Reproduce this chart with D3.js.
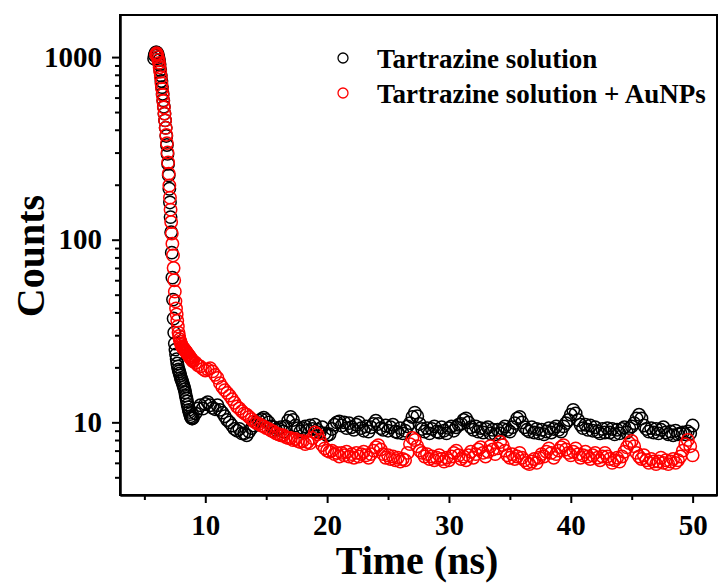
<!DOCTYPE html>
<html>
<head>
<meta charset="utf-8">
<script src="https://cdn.jsdelivr.net/npm/d3@7/dist/d3.min.js"></script>
<style>
  html, body { margin: 0; padding: 0; background: #fff; }
  svg { display: block; }
  text { font-family: "Liberation Serif", "Times New Roman", serif; font-weight: bold; fill: #000; }
</style>
</head>
<body>
<div id="chart"></div>
<script>
// ---------------- DATA ----------------
const seriesNames = ["Tartrazine solution", "Tartrazine solution + AuNPs"];
const seriesColors = ["#000000", "#ff0000"];

const time = [
  5.8,5.85,5.9,5.95,6.0,
  6.05,6.1,6.15,6.2,6.25,6.3,6.35,6.4,6.45,6.5,
  6.55,6.6,6.65,6.7,6.75,6.8,6.85,6.9,6.95,7.0,
  7.05,7.1,7.15,7.2,7.25,7.3,7.35,7.4,7.45,7.5,
  7.55,7.6,7.65,7.7,7.75,7.8,7.85,7.9,7.95,8.0,
  8.05,8.1,8.15,8.2,8.25,8.3,8.35,8.4,8.45,8.5,
  8.55,8.6,8.65,8.7,8.75,8.8,8.85,8.9,8.95,9.0,
  9.2,9.4,9.6,9.8,10.0, 10.2,10.4,10.6,10.8,11.0, 11.2,11.4,11.6,11.8,12.0, 12.2,12.4,12.6,12.8,13.0,
  13.2,13.4,13.6,13.8,14.0, 14.2,14.4,14.6,14.8,15.0, 15.2,15.4,15.6,15.8,16.0, 16.2,16.4,16.6,16.8,17.0,
  17.2,17.4,17.6,17.8,18.0, 18.2,18.4,18.6,18.8,19.0, 19.2,19.4,19.6,19.8,20.0, 20.2,20.4,20.6,20.8,21.0,
  21.2,21.4,21.6,21.8,22.0, 22.2,22.4,22.6,22.8,23.0, 23.2,23.4,23.6,23.8,24.0, 24.2,24.4,24.6,24.8,25.0,
  25.2,25.4,25.6,25.8,26.0, 26.2,26.4,26.6,26.8,27.0, 27.2,27.4,27.6,27.8,28.0, 28.2,28.4,28.6,28.8,29.0,
  29.2,29.4,29.6,29.8,30.0, 30.2,30.4,30.6,30.8,31.0, 31.2,31.4,31.6,31.8,32.0, 32.2,32.4,32.6,32.8,33.0,
  33.2,33.4,33.6,33.8,34.0, 34.2,34.4,34.6,34.8,35.0, 35.2,35.4,35.6,35.8,36.0, 36.2,36.4,36.6,36.8,37.0,
  37.2,37.4,37.6,37.8,38.0, 38.2,38.4,38.6,38.8,39.0, 39.2,39.4,39.6,39.8,40.0, 40.2,40.4,40.6,40.8,41.0,
  41.2,41.4,41.6,41.8,42.0, 42.2,42.4,42.6,42.8,43.0, 43.2,43.4,43.6,43.8,44.0, 44.2,44.4,44.6,44.8,45.0,
  45.2,45.4,45.6,45.8,46.0, 46.2,46.4,46.6,46.8,47.0, 47.2,47.4,47.6,47.8,48.0, 48.2,48.4,48.6,48.8,49.0,
  49.2,49.4,49.6,49.8,50.0
];

const countsTartrazine = [
  980,1020,1045,1060,1060,
  1050,1030,1000,960,910,850,795,740,685,630,
  580,535,490,450,410,370,330,295,260,225,
  190,160,133,110,85,62,47,37,31,27,
  25,23.5,22.2,21,20.2,19.5,19,18.5,18,17.5,
  17.1,16.8,16.4,16,15.6,15.2,14.6,14,13.5,13,
  12.5,12.1,11.7,11.4,11.1,10.8,10.6,10.5,10.5,10.6,
  11.2,11.9,12.4,11.9,12.6, 12.9,12.4,12.0,11.8,12.4, 11.7,11.3,10.8,10.3,10.0, 9.6,9.2,9.0,9.2,8.7,
  8.7,8.5,8.9,9.3,9.6, 10.0,10.2,10.4,10.6,10.3, 10.0,9.5,9.4,9.1,9.2, 9.4,8.9,9.5,10.2,10.7,
  10.3,9.6,9.3,8.9,9.3, 9.5,9.0,9.6,9.2,9.7, 9.1,8.8,9.4,8.7,8.5, 8.6,9.2,9.7,10.0,10.1,
  9.6,10.0,9.3,9.9,9.4, 9.1,9.7,10.0,9.3,9.0, 9.5,8.9,9.4,9.8,10.2, 9.8,9.3,9.1,9.6,9.0,
  9.4,9.7,8.9,8.8,9.3, 8.7,9.0,9.5,9.9,10.7, 11.3,10.8,9.8,9.2,8.9, 9.3,8.7,9.2,9.5,8.9,
  8.8,9.4,9.0,8.7,9.3, 9.5,9.0,9.4,9.7,9.8, 10.3,10.5,10.0,9.4,9.1, 9.5,8.9,9.3,8.8,9.2,
  9.4,8.7,9.1,8.6,9.1, 8.7,9.2,9.5,9.1,8.9, 9.4,9.9,10.5,10.7,10.0, 9.4,9.1,8.9,9.4,8.8,
  9.2,8.7,9.1,8.6,8.9, 9.3,8.8,9.2,9.5,9.1, 8.9,9.5,9.9,10.3,11.0, 11.7,11.2,10.3,9.7,9.3,
  9.7,9.1,9.6,9.0,9.4, 8.9,8.7,9.2,8.8,9.3, 8.8,9.2,8.6,9.1,8.7, 9.2,9.4,8.8,9.3,9.5,
  9.9,10.5,11.0,10.5,9.6, 9.2,8.9,9.3,8.8,9.2, 8.7,9.1,9.4,8.8,8.6, 8.9,8.5,9.0,8.6,8.7,
  8.8,8.6,8.9,8.7,9.6
];

const countsTartrazineAuNPs = [
  null,null,null,1030,1050,
  1030,1000,965,930,880,830,775,720,670,620,
  575,530,490,450,410,375,338,300,265,230,
  198,170,146,125,108,95,82,70,60,52,
  46,42,39,36,33.5,31,29.7,28.5,27.7,27,
  26.5,26,25.7,25.5,25.2,25,24.7,24.5,24.2,24,
  23.7,23.5,23.2,23,22.7,22.5,22.2,22,21.8,21.6,
  21.2,20.5,20.2,19.6,19.2, 19.5,19.8,19.0,18.2,17.5, 16.4,15.6,15.0,14.5,14.0, 13.4,12.8,12.2,11.9,11.5,
  11.2,11.0,10.7,10.4,10.1, 9.9,9.8,9.6,9.5,9.3, 9.2,9.0,8.9,8.7,8.6, 8.5,8.5,8.3,8.2,8.2,
  8.0,8.1,7.9,7.8,7.9, 7.6,7.8,7.7,8.2,8.8, 8.6,8.0,7.5,7.2,7.0, 6.9,7.0,6.7,6.8,6.5,
  6.8,6.6,6.9,6.5,6.7, 6.4,6.8,6.5,6.7,6.9, 6.6,6.4,6.7,7.0,7.3, 7.5,7.1,6.7,6.4,6.6,
  6.3,6.5,6.2,6.4,6.1, 6.3,6.2,6.8,7.6,8.2, 8.0,7.4,7.0,6.8,6.5, 6.7,6.3,6.5,6.2,6.4,
  6.6,6.3,6.1,6.4,6.2, 6.5,6.8,7.0,6.6,6.3, 6.5,6.2,6.6,6.9,6.4, 6.7,7.1,7.3,6.8,6.5,
  6.9,7.4,7.1,6.7,7.2, 7.8,7.5,7.0,6.6,6.4, 6.7,6.3,6.5,6.8,6.4, 6.2,6.0,5.9,6.1,6.3,
  6.0,6.4,6.7,6.5,6.9, 7.2,6.8,6.4,6.7,7.0, 7.3,7.5,7.1,6.8,6.6, 6.9,7.2,6.7,6.4,6.6,
  6.9,6.5,6.3,6.6,6.8, 6.4,6.2,6.5,6.8,6.5, 6.3,6.0,6.2,6.4,6.1, 6.5,6.9,7.3,7.7,7.9,
  7.4,6.8,6.5,6.3,6.6, 6.2,6.0,6.3,6.1,5.9, 6.1,6.4,6.0,6.2,5.9, 6.1,6.3,6.0,6.2,6.5,
  7.0,7.6,8.0,7.4,6.6
];

const xTickValues = [10, 20, 30, 40, 50];
const xMinorTickValues = [5, 15, 25, 35, 45];
const yTickValues = [10, 100, 1000];
const yMinorTickValues = [5,6,7,8,9,20,30,40,50,60,70,80,90,200,300,400,500,600,700,800,900];
const xDomain = [3, 52];
const yDomain = [4, 1700];
const xTitle = "Time (ns)";
const yTitle = "Counts";

// ---------------- CHART ----------------
const W = 719, H = 585;
const plot = { left: 120, right: 717, top: 15, bottom: 495 };

const svg = d3.select("#chart").append("svg").attr("width", W).attr("height", H);

const x = d3.scaleLinear().domain(xDomain).range([plot.left, plot.right]);
const y = d3.scaleLog().domain(yDomain).range([plot.bottom, plot.top]);

const series = [countsTartrazine, countsTartrazineAuNPs].map((vals, i) => ({
  name: seriesNames[i],
  color: seriesColors[i],
  points: time.map((t, j) => ({ t, v: vals[j] })).filter(d => d.v != null)
}));

// data points
series.forEach(s => {
  svg.append("g")
    .selectAll("circle")
    .data(s.points)
    .join("circle")
    .attr("cx", d => x(d.t))
    .attr("cy", d => y(d.v))
    .attr("r", 6.2)
    .attr("fill", "none")
    .attr("stroke", s.color)
    .attr("stroke-width", 1.5);
});

// frame
svg.append("rect")
  .attr("x", plot.left).attr("y", plot.top)
  .attr("width", plot.right - plot.left).attr("height", plot.bottom - plot.top)
  .attr("fill", "none").attr("stroke", "#000").attr("stroke-width", 2);

// x axis
const gx = svg.append("g").attr("transform", `translate(0,${plot.bottom})`)
  .call(d3.axisBottom(x).tickValues(xTickValues).tickSize(8).tickSizeOuter(0).tickPadding(11).tickFormat(d3.format("d")));
const gxm = svg.append("g").attr("transform", `translate(0,${plot.bottom})`)
  .call(d3.axisBottom(x).tickValues(xMinorTickValues).tickSize(5).tickSizeOuter(0).tickFormat(""));

// y axis
const gy = svg.append("g").attr("transform", `translate(${plot.left},0)`)
  .call(d3.axisLeft(y).tickValues(yTickValues).tickSize(8).tickSizeOuter(0).tickPadding(10).tickFormat(d3.format("d")));
const gym = svg.append("g").attr("transform", `translate(${plot.left},0)`)
  .call(d3.axisLeft(y).tickValues(yMinorTickValues).tickSize(5).tickSizeOuter(0).tickFormat(""));

[gx, gxm, gy, gym].forEach(g => {
  g.select(".domain").attr("stroke", "#000").attr("stroke-width", 2);
  g.selectAll(".tick line").attr("stroke", "#000").attr("stroke-width", 2);
  g.selectAll(".tick text")
    .attr("font-family", "'Liberation Serif', 'Times New Roman', serif")
    .attr("font-weight", "bold")
    .attr("font-size", 29)
    .attr("fill", "#000");
});

// axis titles
svg.append("text")
  .attr("x", 417).attr("y", 574)
  .attr("text-anchor", "middle")
  .attr("font-size", 40)
  .text(xTitle);

svg.append("text")
  .attr("transform", "translate(44,256) rotate(-90)")
  .attr("text-anchor", "middle")
  .attr("font-size", 40)
  .text(yTitle);

// legend
const legend = svg.append("g");
series.forEach((s, i) => {
  const yy = 58 + i * 35;
  legend.append("circle")
    .attr("cx", 343).attr("cy", yy).attr("r", 5)
    .attr("fill", "none").attr("stroke", s.color).attr("stroke-width", 1.3);
  legend.append("text")
    .attr("x", 377).attr("y", yy + 10)
    .attr("font-size", 27)
    .text(s.name);
});
</script>
</body>
</html>
